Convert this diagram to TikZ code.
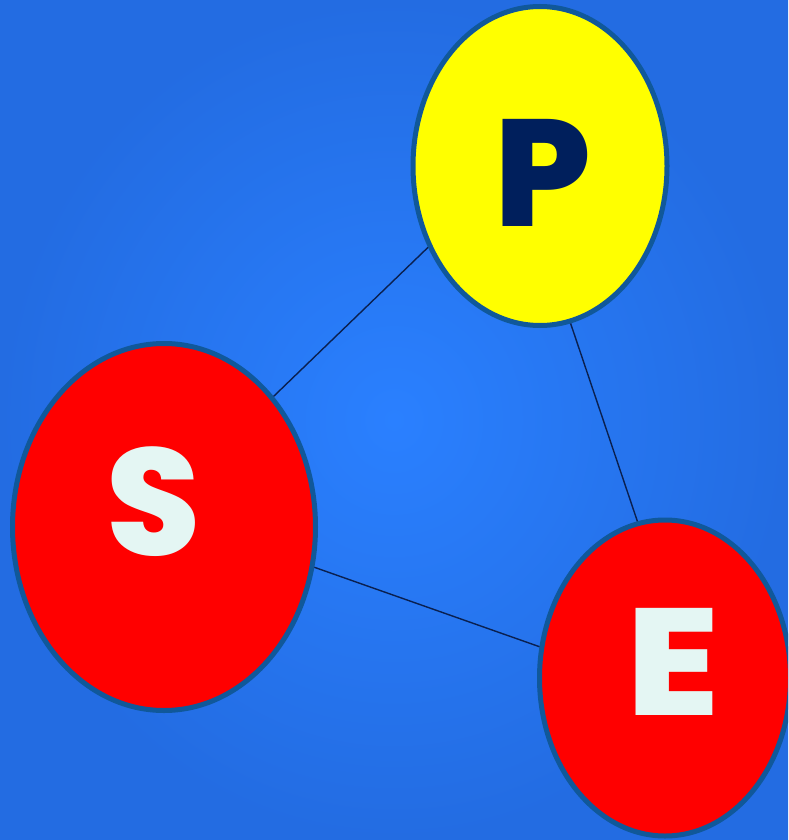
\documentclass[tikz,border=0pt]{standalone}
\usepackage{fontspec}
\newfontfamily\heavyfont{Poppins ExtraBold}
\usetikzlibrary{shapes.geometric}
\definecolor{bgin}{HTML}{2A80FF}
\definecolor{bgout}{HTML}{236CE2}
\definecolor{rim}{HTML}{10589A}
\definecolor{linkc}{HTML}{0A2050}
\definecolor{pcol}{HTML}{001F5C}
\definecolor{secol}{HTML}{E4F6F3}
\definecolor{pyellow}{HTML}{FFFF00}
\definecolor{pred}{HTML}{FF0000}
\tikzset{
  bubble/.style={ellipse, draw=rim, line width=5pt, inner sep=0pt},
  letter/.style={font=\heavyfont\fontsize{152}{152}\selectfont, inner sep=0pt},
  link/.style={draw=linkc, line width=1.4pt}
}
\begin{document}
\begin{tikzpicture}[x=1pt,y=-1pt]
\useasboundingbox (0,0) rectangle (788,840);
\clip (0,0) rectangle (788,840);
\shade[inner color=bgin, outer color=bgout] (0,0) rectangle (788,840);
\node[bubble, fill=pyellow, minimum width=254pt, minimum height=319pt] (P) at (540,166) {};
\node[bubble, fill=pred, minimum width=303pt, minimum height=367pt] (S) at (164,527) {};
\node[bubble, fill=pred, minimum width=251pt, minimum height=316pt] (E) at (665,678) {};
\draw[link] (P.216) -- (S.50.5);
\draw[link] (P.281) -- (E.100.5);
\draw[link] (S.345) -- (E.166);
\node[letter, text=pcol] (Pl) at (543,173) {P};
\node[letter, text=secol] (Sl) at (154,502) {S};
\node[letter, text=secol, xscale=1.12] (El) at (673,662) {E};
\end{tikzpicture}
\end{document}
